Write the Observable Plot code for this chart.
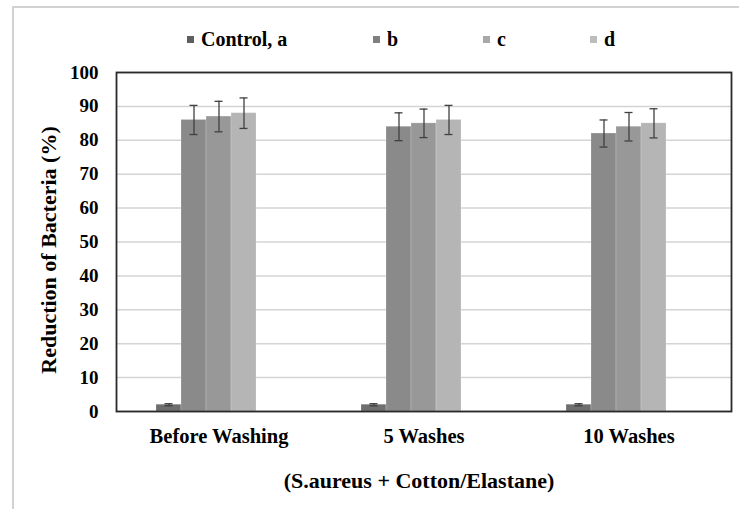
<!DOCTYPE html>
<html><head><meta charset="utf-8">
<script src="https://cdn.jsdelivr.net/npm/d3@7"></script>
<script src="https://cdn.jsdelivr.net/npm/@observablehq/plot@0.6"></script>
<style>
  body { margin: 0; background: #fff; }
  #wrap { position: relative; width: 739px; height: 509px; overflow: hidden; font-family: "Liberation Serif", "Times New Roman", serif; font-weight: bold; }
  #border { position: absolute; left: 12px; top: 6px; right: -10px; bottom: -10px; border-left: 2px solid #d2d2d2; border-top: 2px solid #d2d2d2; }
  #legend { position: relative; height: 50px; }
  .item { position: absolute; top: 28px; font-size: 20px; line-height: 22px; white-space: nowrap; }
  .sw { display: inline-block; width: 7px; height: 7px; margin-right: 7px; vertical-align: 3px; }
  #chart { position: relative; }
</style>
</head><body>
<div id="wrap">
  <div id="border"></div>
  <div id="legend"></div>
  <div id="chart"></div>
</div>
<script>
// ---- data ----
const categories = ["Before Washing", "5 Washes", "10 Washes"];
const series = ["Control, a", "b", "c", "d"];
const valControl = [2, 2, 2];
const valB = [86, 84, 82];
const valC = [87, 85, 84];
const valD = [88, 86, 85];
const errControl = [0.3, 0.3, 0.3];
const errB = [4.3, 4.1, 4.0];
const errC = [4.5, 4.2, 4.2];
const errD = [4.5, 4.3, 4.3];
const barColors = ["#6e6e6e", "#8a8a8a", "#989898", "#b5b5b5"];
const legendColors = ["#5e5e5e", "#808080", "#a8a8a8", "#bdbdbd"];
const yTicks = [0, 10, 20, 30, 40, 50, 60, 70, 80, 90, 100];
const yTitle = "Reduction of Bacteria (%)";
const xTitle = "(S.aureus + Cotton/Elastane)";

// table built from the arrays
const vals = [valControl, valB, valC, valD];
const errs = [errControl, errB, errC, errD];
const rows = [];
categories.forEach((c, i) => series.forEach((s, j) => rows.push({cat: c, s, v: vals[j][i], e: errs[j][i]})));

// legend (HTML, above the SVG)
const legendLeft = [187, 373, 483, 590];
const lg = document.getElementById("legend");
series.forEach((s, j) => {
  const d = document.createElement("div");
  d.className = "item";
  d.style.left = legendLeft[j] + "px";
  d.innerHTML = `<span class="sw" style="background:${legendColors[j]}"></span>`;
  d.append(document.createTextNode(s));
  lg.append(d);
});

const font = "'Liberation Serif', 'Times New Roman', serif";
const plot = Plot.plot({
  width: 739,
  height: 459,
  marginLeft: 115,
  marginRight: 8,
  marginTop: 22,
  marginBottom: 98,
  style: {fontFamily: font, fontWeight: "bold", color: "#000", background: "transparent", overflow: "visible"},
  fx: {domain: categories, padding: 0},
  x: {domain: [...series, "(empty)"], paddingInner: 0, paddingOuter: 1.49, axis: null},
  y: {domain: [0, 100]},
  color: {domain: series, range: barColors},
  marks: [
    Plot.gridY(yTicks, {stroke: "#d4d4d4", strokeOpacity: 1, strokeWidth: 1.5}),
    Plot.barY(rows, {fx: "cat", x: "s", y: "v", fill: "s", stroke: "#ffffff", strokeOpacity: 0.25, strokeWidth: 0.8}),
    Plot.ruleX(rows, {fx: "cat", x: "s", y1: d => d.v - d.e, y2: d => d.v + d.e, stroke: "#404040", strokeWidth: 1.3}),
    Plot.tickY(rows, {fx: "cat", x: "s", y: d => d.v + d.e, stroke: "#404040", strokeWidth: 1.3, insetLeft: 8.5, insetRight: 8.5}),
    Plot.tickY(rows, {fx: "cat", x: "s", y: d => d.v - d.e, stroke: "#404040", strokeWidth: 1.3, insetLeft: 8.5, insetRight: 8.5}),
    Plot.frame({facet: "super", stroke: "#2a2a2a", strokeWidth: 1.8}),
    Plot.axisY(yTicks, {tickSize: 0, tickPadding: 18, fontSize: 19, label: null}),
    Plot.axisFx({anchor: "bottom", tickSize: 0, tickPadding: 17, fontSize: 20.5, label: null}),
    Plot.text([yTitle], {facet: "super", frameAnchor: "left", textAnchor: "middle", dx: -68, dy: 8, rotate: -90, fontSize: 22, fontWeight: "bold", fill: "#000"}),
    Plot.text([xTitle], {facet: "super", frameAnchor: "bottom", textAnchor: "middle", dx: -5, dy: 76, fontSize: 22, fontWeight: "bold", fill: "#000"})
  ]
});
document.getElementById("chart").append(plot);
</script></body></html>
